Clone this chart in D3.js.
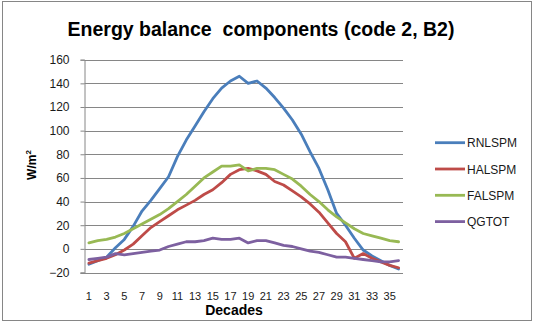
<!DOCTYPE html>
<html>
<head>
<meta charset="utf-8">
<script src="https://cdn.jsdelivr.net/npm/d3@7"></script>
<style>
  html, body { margin: 0; padding: 0; background: #fff; }
  svg { display: block; font-family: "Liberation Sans", Arial, sans-serif; }
</style>
</head>
<body>
<svg id="chart" width="533" height="322"></svg>
<script>
// Decades 1..36
const decades = d3.range(1, 37);
const xTickLabels = d3.range(1, 36, 2);
const yTicks = [-20, 0, 20, 40, 60, 80, 100, 120, 140, 160];

const seriesNames = ["RNLSPM", "HALSPM", "FALSPM", "QGTOT"];
const seriesColors = ["#4A7EBB", "#BE4B48", "#98B954", "#7D60A0"];

const rnlspm = [-13, -10, -7, 1, 8, 19, 32, 41, 51, 61, 78, 92, 104, 116, 127, 136, 142, 146,
                140, 142, 136, 128, 119, 109, 97, 82, 68, 50, 30, 20, 9, -1, -6, -10, -14, -17];
const halspm = [-12, -10, -8, -5, -1, 4, 11, 18, 23, 28, 33, 37, 41, 46, 50, 56, 63, 67,
                68, 66, 63, 57, 54, 49, 44, 38, 31, 22, 13, 6, -8, -4, -8, -11, -14, -16];
const falspm = [5, 7, 8, 10, 13, 17, 21, 25, 29, 34, 40, 46, 53, 60, 65, 70, 70, 71,
                66, 68, 68, 67, 63, 59, 53, 46, 40, 33, 27, 22, 17, 13, 11, 9, 7, 6];
const qgtot = [-9, -8, -7, -4, -5, -4, -3, -2, -1, 2, 4, 6, 6, 7, 9, 8, 8, 9,
               5, 7, 7, 5, 3, 2, 0, -2, -3, -5, -7, -7, -8, -9, -10, -11, -11, -10];

const seriesValues = [rnlspm, halspm, falspm, qgtot];

const svg = d3.select("#chart");
const gridColor = "#868686";
const textColor = "#1a1a1a";

// outer chart frame
svg.append("rect")
  .attr("x", 2.5).attr("y", 1.5)
  .attr("width", 529).attr("height", 319)
  .attr("fill", "#fff")
  .attr("stroke", gridColor).attr("stroke-width", 1);

const plot = { left: 84.5, right: 403, top: 59.7, bottom: 272.5 };

const x = d3.scalePoint()
  .domain(decades)
  .range([plot.left, plot.right])
  .padding(0.5);

const y = d3.scaleLinear()
  .domain([-20, 160])
  .range([plot.bottom, plot.top]);

// horizontal gridlines
svg.append("g")
  .selectAll("line")
  .data(yTicks.filter(t => t > -20))
  .join("line")
  .attr("x1", plot.left).attr("x2", plot.right)
  .attr("y1", d => Math.round(y(d)) + 0.5)
  .attr("y2", d => Math.round(y(d)) + 0.5)
  .attr("stroke", gridColor).attr("stroke-width", 1);

// y axis
const yAxis = svg.append("g")
  .attr("transform", `translate(${plot.left},0)`)
  .call(d3.axisLeft(y).tickValues(yTicks).tickSize(4).tickPadding(11).tickFormat(d3.format("d")));
yAxis.select(".domain").attr("stroke", gridColor);
yAxis.selectAll(".tick line").attr("stroke", gridColor);
yAxis.selectAll(".tick text")
  .attr("fill", textColor)
  .style("font-size", "12px")
  .style("font-family", "Liberation Sans, Arial, sans-serif");

// x axis line
svg.append("line")
  .attr("x1", plot.left - 4).attr("x2", plot.right)
  .attr("y1", Math.round(plot.bottom) + 0.5).attr("y2", Math.round(plot.bottom) + 0.5)
  .attr("stroke", gridColor).attr("stroke-width", 1);

// x tick labels (every other decade)
svg.append("g")
  .selectAll("text")
  .data(xTickLabels)
  .join("text")
  .attr("x", d => x(d))
  .attr("y", 300)
  .attr("text-anchor", "middle")
  .attr("fill", textColor)
  .style("font-size", "11px")
  .text(d => d);

// series lines
const line = d3.line()
  .x((d, i) => x(decades[i]))
  .y(d => y(d));

svg.append("g")
  .selectAll("path")
  .data(seriesValues)
  .join("path")
  .attr("d", d => line(d))
  .attr("fill", "none")
  .attr("stroke", (d, i) => seriesColors[i])
  .attr("stroke-width", 2.8)
  .attr("stroke-linejoin", "round")
  .attr("stroke-linecap", "round");

// title
svg.append("text")
  .attr("x", 261).attr("y", 35.5)
  .attr("text-anchor", "middle")
  .attr("fill", "#000")
  .style("font-size", "19.5px")
  .style("font-weight", "bold")
  .style("white-space", "pre")
  .text("Energy balance  components (code 2, B2)");

// y axis title
svg.append("text")
  .attr("transform", "translate(36,165) rotate(-90)")
  .attr("text-anchor", "middle")
  .attr("fill", "#000")
  .style("font-size", "12px")
  .style("font-weight", "bold")
  .text("W/m")
  .append("tspan")
  .attr("dy", -5)
  .style("font-size", "8px")
  .text("2");

// x axis title
svg.append("text")
  .attr("x", 234).attr("y", 315)
  .attr("text-anchor", "middle")
  .attr("fill", "#000")
  .style("font-size", "14px")
  .style("font-weight", "bold")
  .text("Decades");

// legend
const legend = svg.append("g")
  .selectAll("g")
  .data(seriesNames)
  .join("g")
  .attr("transform", (d, i) => `translate(435,${142.7 + i * 26.3})`);

legend.append("line")
  .attr("x1", 0).attr("x2", 30)
  .attr("y1", 0).attr("y2", 0)
  .attr("stroke", (d, i) => seriesColors[i])
  .attr("stroke-width", 2.8);

legend.append("text")
  .attr("x", 32).attr("y", 4.5)
  .attr("fill", textColor)
  .style("font-size", "12px")
  .text(d => d);
</script>
</body>
</html>
